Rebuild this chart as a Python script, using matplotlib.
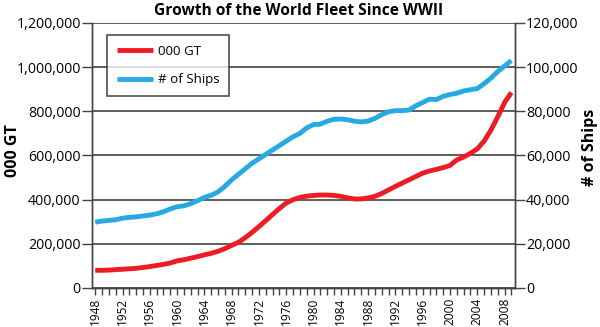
import numpy as np
import matplotlib.pyplot as plt
from matplotlib.ticker import FuncFormatter, MultipleLocator

plt.rcParams['font.family'] = ['Open Sans', 'DejaVu Sans']

years = list(range(1948, 2010))

# gross tonnage, thousands (left axis)
gt_000 = [80, 80, 81, 83, 85, 87, 89, 93, 97, 102,
          107, 113, 123, 128, 135, 142, 150, 157, 166, 178,
          193, 207, 228, 252, 278, 305, 333, 360, 385, 400,
          410, 416, 419, 421, 421, 419, 415, 408, 403, 403,
          408, 415, 428, 444, 460, 475, 490, 505, 520, 530,
          537, 545, 555, 580, 593, 610, 630, 665, 715, 775,
          840, 885]
gt_000 = [v * 1000 for v in gt_000]

# number of ships (right axis)
ships = [29.8, 30.3, 30.6, 30.9, 31.6, 32.0, 32.2, 32.6, 33.0, 33.6,
         34.5, 35.8, 36.8, 37.2, 38.2, 39.5, 41.0, 42.0, 43.5, 46.0,
         49.0, 51.5, 54.0, 56.5, 58.5, 60.5, 62.5, 64.5, 66.5, 68.5,
         70.0, 72.5, 74.0, 74.2, 75.5, 76.4, 76.5, 76.2, 75.5, 75.2,
         75.6, 76.8, 78.5, 79.8, 80.3, 80.3, 80.6, 82.5, 84.0, 85.5,
         85.3, 86.8, 87.6, 88.2, 89.2, 89.8, 90.3, 92.5, 95.0, 98.0,
         100.5, 103.0]
ships = [v * 1000 for v in ships]

red = '#ED1C24'
blue = '#27A9E1'
axcol = '#444444'

fig = plt.figure(figsize=(6, 3.27), dpi=100)
ax = fig.add_axes([0.153, 0.1193, 0.705, 0.8104])
ax2 = ax.twinx()

l1, = ax.plot(years, gt_000, color=red, lw=3.5, solid_capstyle='butt', label='000 GT')
l2, = ax2.plot(years, ships, color=blue, lw=3.5, solid_capstyle='butt', label='# of Ships')

ax.set_xlim(1947.5, 2009.5)
ax.set_ylim(0, 1200000)
ax2.set_ylim(0, 120000)
ax.yaxis.set_major_locator(MultipleLocator(200000))
ax2.yaxis.set_major_locator(MultipleLocator(20000))
fmt = FuncFormatter(lambda v, p: '{:,.0f}'.format(v))
ax.yaxis.set_major_formatter(fmt)
ax2.yaxis.set_major_formatter(fmt)

ax.set_xticks(range(1948, 2010, 4))
ax.set_xticks(range(1948, 2010), minor=True)
ax.set_xticklabels([str(y) for y in range(1948, 2010, 4)], rotation=90, fontsize=8.6)
ax.tick_params(axis='x', which='both', length=5, width=1, color=axcol, pad=2)
ax.tick_params(axis='y', length=7, width=1, color=axcol, labelsize=10.3, pad=1)
ax2.tick_params(axis='y', length=7, width=1, color=axcol, labelsize=10.3, pad=1)

ax.grid(axis='y', color='#333333', lw=1.1)
ax.set_axisbelow(True)

for a in (ax, ax2):
    a.spines['top'].set_visible(False)
    for s in ('left', 'right', 'bottom'):
        a.spines[s].set_color(axcol)
        a.spines[s].set_linewidth(1)

ax.set_ylabel('000 GT', fontsize=11.5, fontweight='bold')
ax.yaxis.set_label_coords(-0.167, 0.52)
ax2.set_ylabel('# of Ships', fontsize=11.5, fontweight='bold')
ax2.yaxis.set_label_coords(1.158, 0.53)

fig.suptitle('Growth of the World Fleet Since WWII', fontsize=11.2, fontweight='bold',
             x=0.497, y=0.99)

leg = ax2.legend(handles=[l1, l2], loc='upper left', bbox_to_anchor=(0.036, 0.955),
                 borderaxespad=0, fontsize=9.6, frameon=True, fancybox=False,
                 handlelength=2.7, borderpad=0.75, labelspacing=1.15, handletextpad=0.35)
leg.get_frame().set_edgecolor('#222222')
leg.get_frame().set_linewidth(1.2)

fig.savefig('out.png', dpi=100)
